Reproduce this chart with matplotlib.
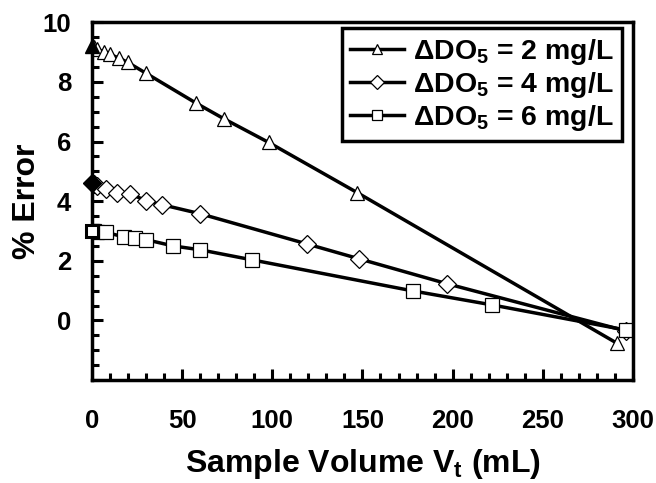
import numpy as np
import matplotlib
matplotlib.use("Agg")
import matplotlib.pyplot as plt
from matplotlib.ticker import MultipleLocator, FixedLocator

plt.rcParams['font.family'] = ['Liberation Sans', 'DejaVu Sans']
plt.rcParams['font.weight'] = 'bold'
plt.rcParams['axes.labelweight'] = 'bold'
plt.rcParams['mathtext.fontset'] = 'custom'
plt.rcParams['mathtext.rm'] = 'Liberation Sans:bold'
plt.rcParams['mathtext.bf'] = 'Liberation Sans:bold'
plt.rcParams['mathtext.it'] = 'Liberation Sans:bold'

# dDO5 = 2 mg/L
vt_2 = [0, 1, 3, 7, 10, 15, 20, 30, 58, 73, 98, 147, 291]
err_2 = [9.2, 9.17, 9.1, 8.99, 8.92, 8.8, 8.65, 8.29, 7.28, 6.77, 5.97, 4.29, -0.76]

# dDO5 = 4 mg/L
vt_4 = [0, 1, 3, 8, 14, 21, 30, 39, 60, 119, 148, 197, 296]
err_4 = [4.6, 4.58, 4.52, 4.42, 4.29, 4.25, 4.02, 3.88, 3.58, 2.57, 2.07, 1.23, -0.35]

# dDO5 = 6 mg/L
vt_6 = [0, 1, 3, 8, 18, 24, 30, 45, 60, 89, 178, 222, 296]
err_6 = [3.0, 3.0, 2.98, 2.95, 2.8, 2.78, 2.71, 2.5, 2.37, 2.03, 0.99, 0.52, -0.32]

labels = [r'$\Delta$DO$_5$ = 2 mg/L', r'$\Delta$DO$_5$ = 4 mg/L', r'$\Delta$DO$_5$ = 6 mg/L']
y_ticks = [0, 2, 4, 6, 8, 10]

fig = plt.figure(figsize=(6.56, 4.83), dpi=100)
ax = fig.add_axes([0.140, 0.213, 0.825, 0.741])

style = dict(color='black', lw=2.5, mfc='white', mec='black', mew=0.9)
ax.plot(vt_2, err_2, marker='^', ms=10, label=labels[0], **style)
ax.plot(vt_4, err_4, marker='D', ms=9, label=labels[1], **style)
ax.plot(vt_6, err_6, marker='s', ms=9.5, label=labels[2], **style)

# bold markers at Vt = 0
ax.plot(vt_2[0], err_2[0], marker='^', ms=10, color='black', clip_on=False, zorder=5)
ax.plot(vt_4[0], err_4[0], marker='D', ms=9, color='black', clip_on=False, zorder=5)
ax.plot(vt_6[0], err_6[0], marker='s', ms=9, mfc='white', mec='black', mew=2.2, clip_on=False, zorder=5)

ax.set_xlim(0, 300)
ax.set_ylim(-2, 10)
ax.xaxis.set_major_locator(MultipleLocator(50))
ax.xaxis.set_minor_locator(MultipleLocator(10))
ax.yaxis.set_major_locator(FixedLocator(y_ticks))
ax.yaxis.set_minor_locator(MultipleLocator(0.5))
ax.tick_params(which='both', direction='in', top=False, right=False, width=2.2)
ax.tick_params(which='major', length=8, labelsize=18.5)
ax.tick_params(axis='x', which='major', pad=21)
ax.tick_params(axis='y', which='major', pad=15)
ax.tick_params(which='minor', length=5)
for s in ax.spines.values():
    s.set_linewidth(2.5)

ax.set_xlabel(r'Sample Volume V$_t$ (mL)', fontsize=23, labelpad=10)
ax.set_ylabel('% Error', fontsize=23, labelpad=0)

leg = ax.legend(loc='upper right', fontsize=20.5, frameon=True, fancybox=False,
                framealpha=1, edgecolor='black', handlelength=1.9,
                handletextpad=0.3, borderpad=0.3, labelspacing=0.1,
                borderaxespad=0, bbox_to_anchor=(0.98, 0.983))
leg.get_frame().set_linewidth(2.5)
for h in leg.legend_handles:
    h.set_markersize(7)

fig.savefig('out.png', dpi=100)
